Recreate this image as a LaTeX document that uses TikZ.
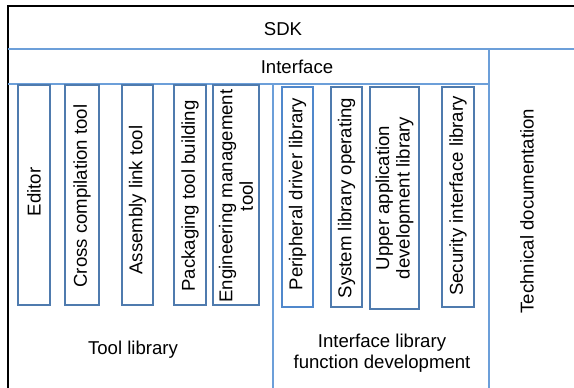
\documentclass[tikz,border=0pt]{standalone}
\usepackage{fontspec}
\setmainfont{Liberation Sans}
\definecolor{regline}{HTML}{6C9FD9}
\definecolor{boxline}{HTML}{4F7BAE}
\definecolor{boxlight}{HTML}{5088CC}
\begin{document}
\begin{tikzpicture}[x=0.5pt,y=-0.5pt,
  region/.style={draw=regline,line width=1pt},
  toolbox/.style={draw=boxline,line width=1pt},
  lbl/.style={font=\fontsize{9.3}{10.3}\selectfont,align=center,inner sep=0pt},
  vlbl/.style={font=\fontsize{9.3}{10.3}\selectfont,align=center,inner sep=0pt,rotate=90}]
\useasboundingbox (0,0) rectangle (574,387);
\clip (0,0) rectangle (574,387);
\draw[line width=1.1pt] (8,400) -- (8,6) -- (600,6);
% regions
\draw[region] (8,49) -- (600,49);
\draw[region] (8,84) -- (489,84);
\draw[region] (489,49) -- (489,400);
\draw[region] (273,84) -- (273,400);
\node[lbl] (sdk) at (283,29) {SDK};
\node[lbl] (iface) at (297,67) {Interface};
% tool boxes
\draw[toolbox] (18,85) rectangle (50,305);
\node[vlbl] (ed) at (34,192) {Editor};
\draw[toolbox] (65,85) rectangle (99,305);
\node[vlbl] (cc) at (82,196) {Cross compilation tool};
\draw[toolbox] (122,85) rectangle (153,305);
\node[vlbl] (al) at (137.5,200) {Assembly link tool};
\draw[toolbox] (174,85) rectangle (206,305);
\node[vlbl] (pk) at (190,196) {Packaging tool building};
\draw[toolbox] (213,85) rectangle (259,305);
\node[vlbl] (en) at (236,196) {Engineering management\\tool};
% interface boxes
\draw[draw=boxlight,line width=1pt] (282,87) rectangle (313,307);
\node[vlbl] (pd) at (297.5,194) {Peripheral driver library};
\draw[toolbox] (331,87) rectangle (362,307);
\node[vlbl] (so) at (346.5,198) {System library operating};
\draw[toolbox] (370,87) rectangle (419,309);
\node[vlbl] (ua) at (394.5,198) {Upper application\\development library};
\draw[toolbox] (442,87) rectangle (474,307);
\node[vlbl] (si) at (458,196) {Security interface library};
% bottom labels
\node[lbl] (tl) at (133,350) {Tool library};
\node[lbl,align=center] (il) at (382,353) {Interface library\\function development};
\node[vlbl] (td) at (527,211) {Technical documentation};
\end{tikzpicture}
\end{document}
